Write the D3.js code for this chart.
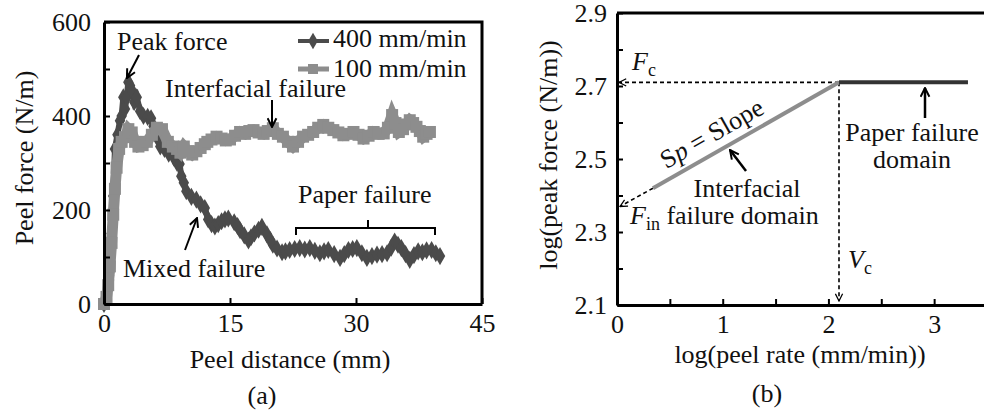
<!DOCTYPE html>
<meta charset="utf-8">
<body style="margin:0; background:#fff">
<svg width="984" height="411"></svg>
<script src="https://cdn.jsdelivr.net/npm/d3@7/dist/d3.min.js"></script>
<script>
// panel (a): peel force vs distance
var dist400 = [0, 0.3, 0.6, 0.9, 1.1, 1.3, 1.6, 1.9, 2.1, 2.3, 2.5, 2.7, 2.9, 3.1, 3.3, 3.6, 3.9, 4.3, 4.7, 5.2, 5.6, 5.9, 6.3, 6.7, 7.2, 7.7, 8.3, 8.7, 9.0, 9.2, 9.5, 9.8, 10.4, 11.0, 11.5, 12.0, 12.4, 12.8, 13.2, 13.6, 14.0, 14.4, 14.8, 15.5, 15.9, 16.2, 16.7, 17.2, 17.5, 17.9, 18.4, 18.8, 19.4, 19.8, 20.1, 20.6, 21.2, 21.6, 22.1, 22.7, 23.3, 23.9, 24.5, 25.1, 25.7, 26.2, 26.7, 27.4, 28.1, 28.6, 29.1, 29.6, 30.1, 30.7, 31.3, 31.9, 32.5, 33.1, 33.7, 34.2, 34.6, 35.0, 35.4, 35.9, 36.4, 36.9, 37.4, 37.9, 38.4, 39.0, 39.5, 40.0];
var force400 = [0, 10, 60, 150, 230, 330, 360, 390, 400, 440, 415, 440, 472, 465, 455, 430, 440, 410, 400, 398, 395, 378, 355, 335, 330, 320, 312, 300, 298, 272, 258, 240, 228, 222, 212, 204, 180, 170, 165, 170, 176, 180, 182, 174, 166, 157, 146, 135, 142, 150, 158, 164, 148, 136, 126, 118, 110, 112, 115, 117, 119, 116, 119, 113, 108, 112, 115, 106, 98, 106, 115, 117, 119, 108, 98, 102, 105, 106, 108, 120, 133, 126, 119, 106, 94, 104, 112, 110, 114, 115, 108, 102];

var dist100 = [0, 0.3, 0.5, 0.7, 0.9, 1.1, 1.3, 1.5, 1.8, 2.1, 2.5, 2.9, 3.3, 3.7, 4.1, 4.6, 5.1, 5.7, 6.3, 6.9, 7.6, 8.2, 8.7, 9.1, 9.5, 10.0, 10.5, 11.0, 11.5, 12.0, 12.3, 12.8, 13.4, 14.0, 14.5, 15.0, 15.6, 16.2, 16.8, 17.3, 17.8, 18.4, 19.0, 19.5, 20.1, 20.7, 21.3, 21.9, 22.5, 23.1, 23.7, 24.3, 24.9, 25.5, 26.1, 26.7, 27.3, 27.9, 28.5, 29.1, 29.7, 30.3, 30.9, 31.5, 32.1, 32.7, 33.3, 33.8, 34.3, 34.7, 35.1, 35.6, 36.0, 36.4, 36.8, 37.2, 37.6, 38.0, 38.4, 38.8];
var force100 = [0, 15, 40, 80, 130, 190, 245, 290, 330, 345, 355, 372, 365, 345, 335, 338, 345, 360, 375, 372, 345, 335, 330, 322, 335, 325, 318, 325, 332, 340, 345, 350, 356, 352, 348, 350, 358, 366, 362, 368, 370, 365, 362, 368, 374, 362, 356, 345, 335, 345, 356, 360, 366, 375, 381, 375, 370, 365, 359, 362, 366, 360, 352, 358, 366, 362, 363, 375, 402, 385, 366, 372, 382, 391, 385, 377, 368, 356, 362, 366];

var seriesNames = ["400 mm/min", "100 mm/min"];

// panel (b): log peak force vs log peel rate
var interfacialRate = [0.34, 2.1];
var interfacialForce = [2.42, 2.71];
var paperRate = [2.1, 3.32];
var paperForce = [2.71, 2.71];
var Fc = 2.71, Vc = 2.1, Fin = 2.37;

var DARK = "#4b4b4b";
var LIGHT = "#8d8d8d";
var FONT = "Liberation Serif";

var svg = d3.select("svg")
    .attr("font-family", FONT)
    .attr("font-size", 26)
    .attr("fill", "#111");

var defs = svg.append("defs");
function addMarker(id, size, sw) {
    defs.append("marker")
        .attr("id", id)
        .attr("viewBox", "0 0 10 10")
        .attr("refX", 9).attr("refY", 5)
        .attr("markerWidth", size).attr("markerHeight", size)
        .attr("markerUnits", "userSpaceOnUse")
        .attr("orient", "auto")
      .append("path")
        .attr("d", "M1,1 L9,5 L1,9")
        .attr("fill", "none")
        .attr("stroke", "#000")
        .attr("stroke-width", sw);
}
addMarker("arr", 11, 1.8);
addMarker("arrSmall", 9, 1.4);

function styleAxis(a) {
    a.attr("font-family", FONT).attr("font-size", 26);
    a.select(".domain").attr("stroke", "#000").attr("stroke-width", 3);
    a.selectAll(".tick line").attr("stroke", "#000").attr("stroke-width", 2);
    a.selectAll(".tick text").attr("fill", "#111");
}

// ---------- panel (a)
var xA = d3.scaleLinear().domain([0, 45]).range([104, 482]);
var yA = d3.scaleLinear().domain([0, 600]).range([304, 22]);

var gA = svg.append("g");

var lineA = d3.line()
    .x(function(d) { return xA(d[0]); })
    .y(function(d) { return yA(d[1]); });

var pts400 = dist400.map(function(d, i) { return [d, force400[i]]; });
var pts100 = dist100.map(function(d, i) { return [d, force100[i]]; });

gA.append("path").datum(pts400)
    .attr("d", lineA).attr("fill", "none")
    .attr("stroke", DARK).attr("stroke-width", 6);
gA.append("g").selectAll("path").data(pts400).enter().append("path")
    .attr("d", d3.symbol().type(d3.symbolDiamond).size(95))
    .attr("transform", function(d) { return "translate(" + xA(d[0]) + "," + yA(d[1]) + ")"; })
    .attr("fill", DARK);

gA.append("path").datum(pts100)
    .attr("d", lineA).attr("fill", "none")
    .attr("stroke", LIGHT).attr("stroke-width", 11);
gA.append("g").selectAll("rect").data(pts100).enter().append("rect")
    .attr("x", function(d) { return xA(d[0]) - 6; })
    .attr("y", function(d) { return yA(d[1]) - 6; })
    .attr("width", 12).attr("height", 12)
    .attr("fill", LIGHT);

var axA_x = gA.append("g")
    .attr("transform", "translate(0,304)")
    .call(d3.axisBottom(xA).tickValues([0, 15, 30, 45]).tickSizeInner(-6).tickSizeOuter(0).tickPadding(10));
var axA_y = gA.append("g")
    .attr("transform", "translate(104,0)")
    .call(d3.axisLeft(yA).tickValues(d3.range(0, 601, 100)).tickSizeInner(-6).tickSizeOuter(0).tickPadding(13)
        .tickFormat(function(d) { return d % 200 === 0 ? d : ""; }));
styleAxis(axA_x);
styleAxis(axA_y);
gA.append("path")
    .attr("d", "M" + xA(0) + "," + yA(600) + "H" + xA(45) + "V" + yA(0))
    .attr("fill", "none").attr("stroke", "#000").attr("stroke-width", 3);

gA.append("text").attr("x", 290).attr("y", 368).attr("text-anchor", "middle").text("Peel distance (mm)");
gA.append("text").attr("transform", "translate(33,158) rotate(-90)").attr("text-anchor", "middle").text("Peel force (N/m)");
gA.append("text").attr("x", 262).attr("y", 404).attr("text-anchor", "middle").text("(a)");

// legend
var legend = gA.append("g");
legend.append("line").attr("x1", 298).attr("x2", 329).attr("y1", 41).attr("y2", 41)
    .attr("stroke", DARK).attr("stroke-width", 4);
legend.append("path").attr("d", d3.symbol().type(d3.symbolDiamond).size(80))
    .attr("transform", "translate(313,41)").attr("fill", DARK);
legend.append("text").attr("x", 333).attr("y", 47).text(seriesNames[0]);
legend.append("line").attr("x1", 298).attr("x2", 329).attr("y1", 69).attr("y2", 69)
    .attr("stroke", LIGHT).attr("stroke-width", 5);
legend.append("rect").attr("x", 308).attr("y", 64).attr("width", 10).attr("height", 10).attr("fill", LIGHT);
legend.append("text").attr("x", 333).attr("y", 77).text(seriesNames[1]);

// annotations
gA.append("text").attr("x", 117).attr("y", 50).text("Peak force");
gA.append("line").attr("x1", 139).attr("y1", 55).attr("x2", 127).attr("y2", 78)
    .attr("stroke", "#000").attr("stroke-width", 2).attr("marker-end", "url(#arr)");
gA.append("text").attr("x", 165).attr("y", 97).text("Interfacial failure");
gA.append("line").attr("x1", 272).attr("y1", 100).attr("x2", 272).attr("y2", 127)
    .attr("stroke", "#000").attr("stroke-width", 2).attr("marker-end", "url(#arr)");
gA.append("text").attr("x", 298).attr("y", 203).text("Paper failure");
gA.append("path").attr("d", "M296,235 V228 H435 V235 M368,228 V220")
    .attr("fill", "none").attr("stroke", "#000").attr("stroke-width", 2);
gA.append("text").attr("x", 123).attr("y", 277).text("Mixed failure");
gA.append("line").attr("x1", 185).attr("y1", 250).attr("x2", 197).attr("y2", 218)
    .attr("stroke", "#000").attr("stroke-width", 2).attr("marker-end", "url(#arr)");

// ---------- panel (b)
var xB = d3.scaleLinear().domain([0, 3.5]).range([617, 987]);
var yB = d3.scaleLinear().domain([2.1, 2.9]).range([305, 13]);
var gB = svg.append("g");

var lineB = d3.line()
    .x(function(d) { return xB(d[0]); })
    .y(function(d) { return yB(d[1]); });

// dashed guides
gB.append("line").attr("x1", xB(Vc)).attr("y1", yB(Fc)).attr("x2", xB(0) + 2).attr("y2", yB(Fc))
    .attr("stroke", "#000").attr("stroke-width", 1.6).attr("stroke-dasharray", "4,3")
    .attr("marker-end", "url(#arrSmall)");
gB.append("line").attr("x1", xB(Vc)).attr("y1", yB(Fc)).attr("x2", xB(Vc)).attr("y2", yB(2.1) - 4)
    .attr("stroke", "#000").attr("stroke-width", 1.6).attr("stroke-dasharray", "4,3")
    .attr("marker-end", "url(#arrSmall)");
gB.append("line").attr("x1", xB(interfacialRate[0])).attr("y1", yB(interfacialForce[0]))
    .attr("x2", xB(0) + 3).attr("y2", yB(Fin))
    .attr("stroke", "#000").attr("stroke-width", 1.6).attr("stroke-dasharray", "4,3")
    .attr("marker-end", "url(#arrSmall)");

gB.append("path").datum(interfacialRate.map(function(d, i) { return [d, interfacialForce[i]]; }))
    .attr("d", lineB).attr("fill", "none").attr("stroke", LIGHT).attr("stroke-width", 4);
gB.append("path").datum(paperRate.map(function(d, i) { return [d, paperForce[i]]; }))
    .attr("d", lineB).attr("fill", "none").attr("stroke", "#333").attr("stroke-width", 4);

var axB_x = gB.append("g")
    .attr("transform", "translate(0,305)")
    .call(d3.axisBottom(xB).tickValues(d3.range(0, 3.51, 0.5)).tickSizeInner(-6).tickSizeOuter(0).tickPadding(10)
        .tickFormat(function(d) { return d % 1 === 0 && d < 3.5 ? d : ""; }));
var axB_y = gB.append("g")
    .attr("transform", "translate(617,0)")
    .call(d3.axisLeft(yB).tickValues(d3.range(0, 9).map(function(i) { return 2.1 + i * 0.1; }))
        .tickSizeInner(-6).tickSizeOuter(0).tickPadding(10)
        .tickFormat(function(d, i) { return i % 2 === 0 ? d3.format(".1f")(d) : ""; }));
styleAxis(axB_x);
styleAxis(axB_y);
gB.append("path")
    .attr("d", "M" + xB(0) + "," + yB(2.9) + "H" + xB(3.5))
    .attr("fill", "none").attr("stroke", "#000").attr("stroke-width", 3);

gB.append("text").attr("x", 800).attr("y", 363).attr("text-anchor", "middle").text("log(peel rate (mm/min))");
gB.append("text").attr("transform", "translate(557,155) rotate(-90)").attr("text-anchor", "middle").text("log(peak force (N/m))");
gB.append("text").attr("x", 767).attr("y", 402).attr("text-anchor", "middle").text("(b)");

function subLabel(x, y, main, sub) {
    var t = gB.append("text").attr("x", x).attr("y", y);
    t.append("tspan").attr("font-style", "italic").text(main);
    t.append("tspan").attr("font-size", 18).attr("dy", 6).text(sub);
    return t;
}
subLabel(632, 70, "F", "c");
var tin = subLabel(630, 224, "F", "in");
tin.append("tspan").attr("dy", -6).text(" failure domain");
subLabel(848, 268, "V", "c");

var ang = Math.atan2(yB(interfacialForce[1]) - yB(interfacialForce[0]), xB(interfacialRate[1]) - xB(interfacialRate[0])) * 180 / Math.PI;
var sp = gB.append("text").attr("text-anchor", "middle")
    .attr("transform", "translate(716,141) rotate(" + ang + ")");
sp.append("tspan").text("S");
sp.append("tspan").attr("font-style", "italic").text("p");
sp.append("tspan").text(" = Slope");

gB.append("text").attr("x", 747).attr("y", 197).attr("text-anchor", "middle").text("Interfacial");
gB.append("line").attr("x1", 746).attr("y1", 171).attr("x2", 730).attr("y2", 150)
    .attr("stroke", "#000").attr("stroke-width", 2.5).attr("marker-end", "url(#arr)");

gB.append("text").attr("x", 912).attr("y", 141).attr("text-anchor", "middle").text("Paper failure");
gB.append("text").attr("x", 912).attr("y", 168).attr("text-anchor", "middle").text("domain");
gB.append("line").attr("x1", 925).attr("y1", 118).attr("x2", 925).attr("y2", 88)
    .attr("stroke", "#000").attr("stroke-width", 2.5).attr("marker-end", "url(#arr)");
</script>
</body>
